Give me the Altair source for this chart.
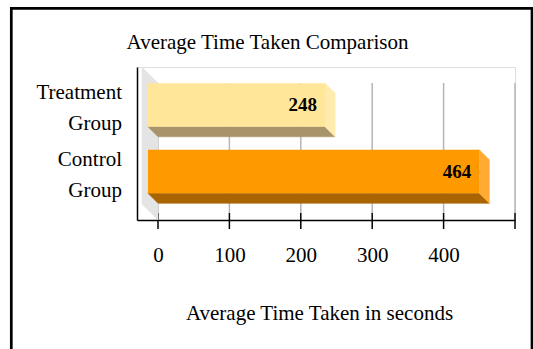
import altair as alt
import pandas as pd

# ---- values ---------------------------------------------------------------
categories = ["Treatment Group", "Control Group"]
avg_seconds = [248, 464]
tick_values = [0, 100, 200, 300, 400, 500]

front_colors = ["#FFE699", "#FF9900"]
bottom_colors = ["#A8946A", "#A86400"]
side_colors = ["#FFEBAD", "#FFAB33"]
wall_color = "#E4E4E4"

SERIF = "Liberation Serif"

# ---- geometry of the pseudo-3D view --------------------------------------
W, H = 378, 153                 # plot area in px
X_MIN, X_MAX = -29.4, 500       # x domain (back-wall units)
PX_PER_UNIT = W / (X_MAX - X_MIN)
ROW_STEP = 66.5                 # px between category rows
ROW0 = 38                       # px from plot top to first row centre
Y_MIN = -ROW0 / ROW_STEP
Y_MAX = (H - ROW0) / ROW_STEP


def ux(px):
    return px / PX_PER_UNIT


def uy(px):
    return px / ROW_STEP


DEPTH = 10      # bar depth in px (shift right / down)
HALF = 21.75    # half height of a bar front face in px
WALL = 16       # depth of the side wall in px

dx, dy, h = ux(DEPTH), uy(DEPTH), uy(HALF)
wx, wy = ux(WALL), uy(WALL)

# ---- tables built from the values ----------------------------------------
front_rows, face_rows, keys, key_colors = [], [], ["wall"], [wall_color]

# side wall at value 0: a parallelogram running from the front to the back
for k, (xx, yy) in enumerate([(-wx, Y_MIN), (0, Y_MIN + wy),
                              (0, Y_MAX), (-wx, Y_MAX - wy)]):
    face_rows.append(dict(key="wall", k=k, x=xx, y=yy))

for i, (cat, v) in enumerate(zip(categories, avg_seconds)):
    kf, kb, ks = f"{cat}|front", f"{cat}|bottom", f"{cat}|side"
    keys += [kf, kb, ks]
    key_colors += [front_colors[i], bottom_colors[i], side_colors[i]]
    front_rows.append(dict(cat=cat, key=kf, x=-dx, x2=v - dx,
                           y=i - h, y2=i + h, yc=i, xl=v - dx, val=v))
    # underside of the bar
    for k, (xx, yy) in enumerate([(-dx, i + h), (v - dx, i + h),
                                  (v, i + h + dy), (0, i + h + dy)]):
        face_rows.append(dict(key=kb, k=k, x=xx, y=yy))
    # end cap of the bar
    for k, (xx, yy) in enumerate([(v - dx, i - h), (v, i - h + dy),
                                  (v, i + h + dy), (v - dx, i + h)]):
        face_rows.append(dict(key=ks, k=k, x=xx, y=yy))

front_df = pd.DataFrame(front_rows)
face_df = pd.DataFrame(face_rows)
tick_df = pd.DataFrame({"x": tick_values})

# ---- scales & axes --------------------------------------------------------
x_scale = alt.Scale(domain=[X_MIN, X_MAX], nice=False, zero=False)
y_scale = alt.Scale(domain=[Y_MIN, Y_MAX], nice=False, zero=False, reverse=True)
color_scale = alt.Scale(domain=keys, range=key_colors)

x_axis = alt.Axis(
    values=tick_values,
    labelExpr="datum.value >= 500 ? '' : datum.label",
    ticks=False, grid=False,
    domainColor="black", domainWidth=1.5,
    labelFont=SERIF, labelFontSize=21, labelColor="black", labelPadding=24,
    title="Average Time Taken in seconds",
    titleFont=SERIF, titleFontSize=21, titleFontWeight="normal",
    titleColor="black", titleX=182, titleY=99, titleBaseline="alphabetic",
)
y_axis = alt.Axis(domain=True, domainColor="black", domainWidth=1.5,
                  labels=False, ticks=False, grid=False, title=None)


def X(f="x"):
    return alt.X(f"{f}:Q", scale=x_scale, axis=x_axis)


def Y(f="y"):
    return alt.Y(f"{f}:Q", scale=y_scale, axis=y_axis)


# ---- layers ----------------------------------------------------------------
grid = alt.Chart(tick_df).mark_rule(color="#B5B5B5", strokeWidth=1.5).encode(
    x=X(), y=alt.value(16), y2=alt.value(146))

ticks = alt.Chart(tick_df).mark_rule(color="black", strokeWidth=1.5).encode(
    x=X(), y=alt.value(146), y2=alt.value(162))

# filled polygons: wall, bar undersides and end caps
faces = alt.Chart(face_df).mark_line(strokeWidth=0.6, interpolate="linear-closed").encode(
    x=X(), y=Y(), order="k:Q",
    fill=alt.Fill("key:N", scale=color_scale, legend=None),
    stroke=alt.Stroke("key:N", scale=color_scale, legend=None),
    detail="key:N")

fronts = alt.Chart(front_df).mark_rect().encode(
    x=X(), x2="x2:Q", y=Y(), y2="y2:Q",
    fill=alt.Fill("key:N", scale=color_scale, legend=None))

values = alt.Chart(front_df).mark_text(
    align="right", baseline="middle", dx=-8, font=SERIF, fontSize=19,
    fontWeight="bold", color="black",
).encode(x=X("xl"), y=Y("yc"), text="val:Q")

cat_labels = alt.Chart(front_df).mark_text(
    align="right", baseline="middle", dy=-12, font=SERIF, fontSize=21,
    color="black", lineBreak=" ", lineHeight=31,
).encode(x=alt.value(-15), y=Y("yc"), text="cat:N")

title = alt.Chart(alt.Data(values=[{}])).mark_text(
    text="Average Time Taken Comparison", align="center",
    baseline="alphabetic", font=SERIF, fontSize=21, color="black",
).encode(x=alt.value(130.5), y=alt.value(-18))

frame = alt.Chart(alt.Data(values=[{}])).mark_rect(
    filled=False, stroke="black", strokeWidth=2.7,
).encode(x=alt.value(-125.7), x2=alt.value(395), y=alt.value(-58.7),
         y2=alt.value(300))

chart = alt.layer(
    grid, ticks, faces, fronts, values, cat_labels, title, frame,
).properties(
    width=W, height=H,
    autosize=alt.AutoSizeParams(type="none"),
    padding={"left": 137, "top": 67, "right": 18, "bottom": 129},
).configure_view(stroke=None).configure(background="white")

chart.save("out.html", embed_options={"renderer": "svg", "actions": False})
